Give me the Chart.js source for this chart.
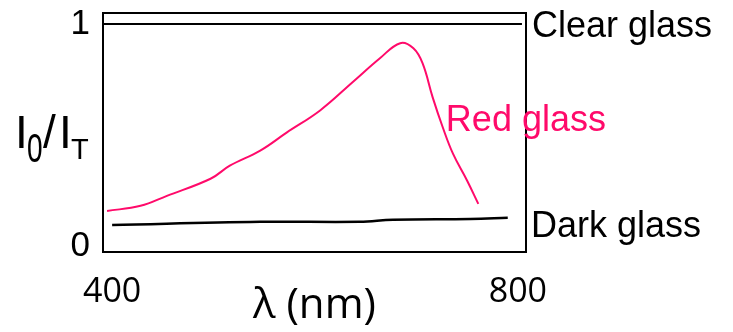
<!DOCTYPE html>
<html lang="en">
<head>
  <meta charset="UTF-8">
  <title>I0/IT vs wavelength</title>
  <script src="https://cdn.jsdelivr.net/npm/chart.js"></script>
  <style>
    body { margin: 0; background: #fff; }
    #wrap { width: 733px; height: 332px; }
  </style>
</head>
<body>
  <div id="wrap"><canvas id="grafico" width="733" height="332"></canvas></div>
  <script>
    const clearX = [391, 804];
    const clearY = [1, 1];
    const redX = [395, 428, 454, 497, 516, 546, 572, 605, 637, 664, 684, 697, 706, 716, 726, 736, 750, 761];
    const redY = [0.158, 0.181, 0.226, 0.303, 0.362, 0.430, 0.511, 0.611, 0.738, 0.846, 0.914, 0.891, 0.824, 0.670, 0.534, 0.416, 0.294, 0.190];
    const darkX = [400, 546, 644, 677, 753, 790];
    const darkY = [0.095, 0.109, 0.109, 0.118, 0.122, 0.127];
    const xTicks = [400, 800];
    const yTicks = [0, 1];

    const RED = '#ff0a6a';
    const pts = (xs, ys) => xs.map((x, i) => ({ x: x, y: ys[i] }));

    // box, y title and series labels
    const extras = {
      id: 'extras',
      afterDraw(chart) {
        const ctx = chart.ctx;
        const a = chart.chartArea;
        const xs = chart.scales.x, ys = chart.scales.y;
        ctx.save();
        ctx.strokeStyle = '#000';
        ctx.lineWidth = 2;
        ctx.strokeRect(a.left, a.top, a.right - a.left, a.bottom - a.top);

        // I0/IT
        ctx.fillStyle = '#000';
        ctx.textBaseline = 'alphabetic';
        ctx.textAlign = 'left';
        ctx.font = '46px "Liberation Sans", Arial';
        ctx.fillText('I', 15, 148);
        ctx.save();
        ctx.translate(27, 162);
        ctx.scale(0.7, 1);
        ctx.font = '40px "Liberation Sans", Arial';
        ctx.fillText('0', 0, 0);
        ctx.restore();
        ctx.font = '46px "Liberation Sans", Arial';
        ctx.fillText('/', 43, 148);
        ctx.fillText('I', 59, 148);
        ctx.font = '29px "Liberation Sans", Arial';
        ctx.fillText('T', 71, 159);

        // series labels
        ctx.font = '36px "Liberation Sans", Arial';
        ctx.fillText('Clear glass', a.right + 6, ys.getPixelForValue(1) + 13);
        ctx.fillText('Dark glass', a.right + 5, ys.getPixelForValue(0.097) + 13);
        ctx.fillStyle = RED;
        ctx.fillText('Red glass', xs.getPixelForValue(729), ys.getPixelForValue(0.577) + 13);
        ctx.restore();
      }
    };

    new Chart(document.getElementById('grafico'), {
      type: 'line',
      data: {
        datasets: [
          { label: 'Clear glass', data: pts(clearX, clearY), borderColor: '#000', borderWidth: 2, pointRadius: 0, tension: 0 },
          { label: 'Red glass', data: pts(redX, redY), borderColor: RED, borderWidth: 2, pointRadius: 0, tension: 0.4 },
          { label: 'Dark glass', data: pts(darkX, darkY), borderColor: '#000', borderWidth: 2.5, pointRadius: 0, tension: 0.4 }
        ]
      },
      options: {
        responsive: false,
        animation: false,
        layout: { padding: { top: 13, right: 207, left: 0, bottom: 0 } },
        plugins: { legend: { display: false }, tooltip: { enabled: false } },
        scales: {
          x: {
            type: 'linear',
            bounds: 'data',
            min: 391,
            max: 808,
            afterBuildTicks: s => { s.ticks = xTicks.map(v => ({ value: v })); },
            afterFit: s => { s.height = 80; },
            grid: { display: false, drawTicks: false },
            border: { display: false },
            ticks: { color: '#000', padding: 20, font: { family: '"Open Sans"', size: 34 } },
            title: {
              display: true,
              text: 'λ (nm)',
              color: '#000',
              padding: { top: 0, bottom: 1 },
              font: { family: '"Open Sans"', size: 42 }
            }
          },
          y: {
            bounds: 'data',
            min: -0.027,
            max: 1.05,
            afterBuildTicks: s => { s.ticks = yTicks.map(v => ({ value: v })); },
            afterFit: s => { s.width = 103; s.paddingTop = 0; s.paddingBottom = 0; },
            grid: { display: false, drawTicks: false },
            border: { display: false },
            ticks: { color: '#000', padding: 13, font: { family: '"Liberation Sans"', size: 35 } }
          }
        }
      },
      plugins: [extras]
    });
  </script>
</body>
</html>
